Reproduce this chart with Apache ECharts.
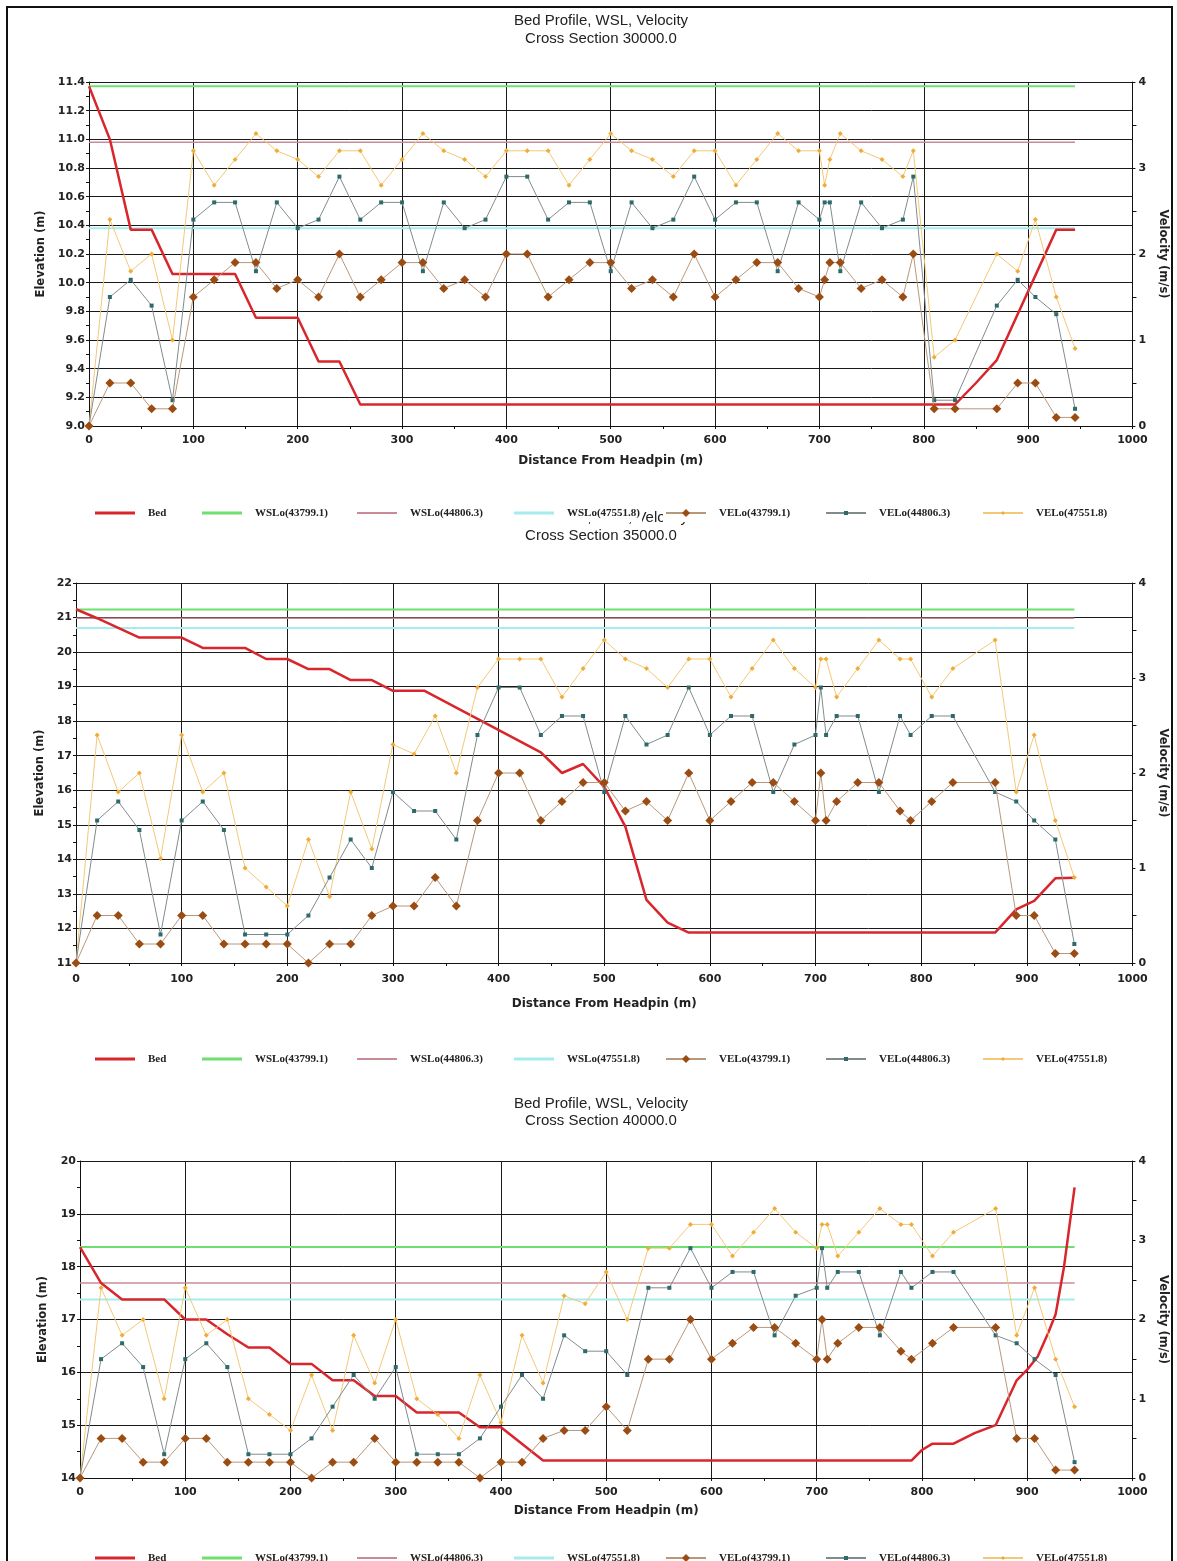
<!DOCTYPE html>
<html><head><meta charset="utf-8">
<script src="https://cdn.jsdelivr.net/npm/echarts@6/dist/echarts.min.js"></script>
<style>html,body{margin:0;padding:0;background:#fff;}#c{width:1177px;height:1561px;}</style>
</head><body><div id="c"></div>
<script>
// ---------- DATA ----------
const seriesNames = ['Bed','WSLo(43799.1)','WSLo(44806.3)','WSLo(47551.8)','VELo(43799.1)','VELo(44806.3)','VELo(47551.8)'];
const xTicks = [0,100,200,300,400,500,600,700,800,900,1000];
const velTicks = [0,1,2,3,4];
const titleLine1 = 'Bed Profile, WSL, Velocity';
const sectionTitles = ['Cross Section 30000.0','Cross Section 35000.0','Cross Section 40000.0'];

// stations where velocities are reported (m)
const dist = [0,20,40,60,80,100,120,140,160,180,200,220,240,260,280,300,320,340,360,380,400,420,440,460,480,500,520,540,560,580,600,620,640,660,680,700,705,710,720,740,760,780,790,810,830,870,890,907,927,945];
const wslDist = [0,945];

// ---- Cross Section 30000.0 ----
const bedDist1 = [0,20,40,60,80,140,160,200,220,240,260,830,850,870,927,945];
const bedElev1 = [11.37,11.0,10.37,10.37,10.06,10.06,9.755,9.755,9.45,9.45,9.15,9.15,9.3,9.46,10.37,10.37];
const wsl1 = [11.37,10.98,10.38];
const vel1a = [0,0.5,0.5,0.2,0.2,1.5,1.7,1.9,1.9,1.6,1.7,1.5,2.0,1.5,1.7,1.9,1.9,1.6,1.7,1.5,2.0,2.0,1.5,1.7,1.9,1.9,1.6,1.7,1.5,2.0,1.5,1.7,1.9,1.9,1.6,1.5,1.7,1.9,1.9,1.6,1.7,1.5,2.0,0.2,0.2,0.2,0.5,0.5,0.1,0.1];
const vel1b = [0,1.5,1.7,1.4,0.3,2.4,2.6,2.6,1.8,2.6,2.3,2.4,2.9,2.4,2.6,2.6,1.8,2.6,2.3,2.4,2.9,2.9,2.4,2.6,2.6,1.8,2.6,2.3,2.4,2.9,2.4,2.6,2.6,1.8,2.6,2.4,2.6,2.6,1.8,2.6,2.3,2.4,2.9,0.3,0.3,1.4,1.7,1.5,1.3,0.2];
const vel1c = [0,2.4,1.8,2.0,1.0,3.2,2.8,3.1,3.4,3.2,3.1,2.9,3.2,3.2,2.8,3.1,3.4,3.2,3.1,2.9,3.2,3.2,3.2,2.8,3.1,3.4,3.2,3.1,2.9,3.2,3.2,2.8,3.1,3.4,3.2,3.2,2.8,3.1,3.4,3.2,3.1,2.9,3.2,0.8,1.0,2.0,1.8,2.4,1.5,0.9];

// ---- Cross Section 35000.0 ----
const bedDist2 = [0,20,40,60,100,120,160,180,200,220,240,260,280,300,330,440,460,480,500,520,540,560,580,870,890,907,927,945];
const bedElev2 = [21.24,20.98,20.7,20.42,20.42,20.12,20.12,19.8,19.8,19.51,19.51,19.19,19.19,18.88,18.88,17.1,16.5,16.76,16.1,14.95,12.83,12.17,11.88,11.88,12.55,12.8,13.45,13.47];
const wsl2 = [21.23,20.98,20.7];
const vel2a = [0,0.5,0.5,0.2,0.2,0.5,0.5,0.2,0.2,0.2,0.2,0,0.2,0.2,0.5,0.6,0.6,0.9,0.6,1.5,2.0,2.0,1.5,1.7,1.9,1.9,1.6,1.7,1.5,2.0,1.5,1.7,1.9,1.9,1.7,1.5,2.0,1.5,1.7,1.9,1.9,1.6,1.5,1.7,1.9,1.9,0.5,0.5,0.1,0.1];
const vel2b = [0,1.5,1.7,1.4,0.3,1.5,1.7,1.4,0.3,0.3,0.3,0.5,0.9,1.3,1.0,1.8,1.6,1.6,1.3,2.4,2.9,2.9,2.4,2.6,2.6,1.8,2.6,2.3,2.4,2.9,2.4,2.6,2.6,1.8,2.3,2.4,2.9,2.4,2.6,2.6,1.8,2.6,2.4,2.6,2.6,1.8,1.7,1.5,1.3,0.2];
const vel2c = [0,2.4,1.8,2.0,1.1,2.4,1.8,2.0,1.0,0.8,0.6,1.3,0.7,1.8,1.2,2.3,2.2,2.6,2.0,2.9,3.2,3.2,3.2,2.8,3.1,3.4,3.2,3.1,2.9,3.2,3.2,2.8,3.1,3.4,3.1,2.9,3.2,3.2,2.8,3.1,3.4,3.2,3.2,2.8,3.1,3.4,1.8,2.4,1.5,0.9];

// ---- Cross Section 40000.0 ----
const bedDist3 = [0,20,40,80,100,120,140,160,180,200,220,240,260,280,300,320,360,380,400,440,790,800,810,830,850,870,890,900,910,920,927,935,945];
const bedElev3 = [18.37,17.69,17.38,17.38,17.0,17.0,16.72,16.47,16.47,16.16,16.16,15.85,15.85,15.55,15.55,15.24,15.24,14.96,14.96,14.33,14.33,14.53,14.65,14.65,14.85,15.0,15.85,16.05,16.3,16.75,17.1,18.0,19.5];
const wsl3 = [18.37,17.69,17.38];
const vel3a = [0,0.5,0.5,0.2,0.2,0.5,0.5,0.2,0.2,0.2,0.2,0,0.2,0.2,0.5,0.2,0.2,0.2,0.2,0,0.2,0.2,0.5,0.6,0.6,0.9,0.6,1.5,1.5,2.0,1.5,1.7,1.9,1.9,1.7,1.5,2.0,1.5,1.7,1.9,1.9,1.6,1.5,1.7,1.9,1.9,0.5,0.5,0.1,0.1];
const vel3b = [0,1.5,1.7,1.4,0.3,1.5,1.7,1.4,0.3,0.3,0.3,0.5,0.9,1.3,1.0,1.4,0.3,0.3,0.3,0.5,0.9,1.3,1.0,1.8,1.6,1.6,1.3,2.4,2.4,2.9,2.4,2.6,2.6,1.8,2.3,2.4,2.9,2.4,2.6,2.6,1.8,2.6,2.4,2.6,2.6,1.8,1.7,1.5,1.3,0.2];
const vel3c = [0,2.4,1.8,2.0,1.0,2.4,1.8,2.0,1.0,0.8,0.6,1.3,0.6,1.8,1.2,2.0,1.0,0.8,0.5,1.3,0.7,1.8,1.2,2.3,2.2,2.6,2.0,2.9,2.9,3.2,3.2,2.8,3.1,3.4,3.1,2.9,3.2,3.2,2.8,3.1,3.4,3.2,3.2,2.8,3.1,3.4,1.8,2.4,1.5,0.9];

// ---------- LAYOUT / STYLE ----------
const panelData = [
  {bedD: bedDist1, bedE: bedElev1, wsl: wsl1, vel: [vel1a, vel1b, vel1c], yMin: 9, yMax: 11.4, yInt: 0.2, dec: 1},
  {bedD: bedDist2, bedE: bedElev2, wsl: wsl2, vel: [vel2a, vel2b, vel2c], yMin: 11, yMax: 22, yInt: 1, dec: 0},
  {bedD: bedDist3, bedE: bedElev3, wsl: wsl3, vel: [vel3a, vel3b, vel3c], yMin: 14, yMax: 20, yInt: 1, dec: 0}
];
const layout = [
  {left: 89, right: 44, top: 82, height: 344, t1: 21, t2: 39, leg: 512, xLblMargin: 9, xNameGap: 29, yNameGap: 40, rNameGap: 22},
  {left: 76, right: 40, top: 583, height: 380, t1: 518, t2: 536, leg: 1058, xLblMargin: 11, xNameGap: 35, yNameGap: 27, rNameGap: 19},
  {left: 80, right: 36, top: 1161, height: 317, t1: 1104, t2: 1121, leg: 1557, xLblMargin: 9, xNameGap: 27, yNameGap: 31, rNameGap: 20}
];
const legendLeft = [93, 200, 355, 512, 663, 823, 980];
const legendIcon = ['rect', 'rect', 'rect', 'rect', null, null, null];
const legendIconH = [3, 3, 2, 3, 10, 5, 5];
const colors = {
  bed: '#d8262c', wsl: ['#6fe06f', '#c98b98', '#a6ecec'],
  velLine: ['#b9987a', '#808c8c', '#f3c878'],
  velMark: ['#9a4c12', '#2e6a6a', '#f1ac38']
};
const tickFont = {fontFamily: 'DejaVu Sans', fontWeight: 'bold', fontSize: 11, color: '#222'};
const nameFont = {fontFamily: 'DejaVu Sans', fontWeight: 'bold', fontSize: 11.5, color: '#222'};

const grid = [], xAxis = [], yAxis = [], series = [], legend = [], graphic = [];

graphic.push({type: 'rect', silent: true, z: -10, shape: {x: 7, y: 7, width: 1165, height: 1600}, style: {fill: 'none', stroke: '#111', lineWidth: 2}});

panelData.forEach((p, i) => {
  const L = layout[i];
  grid.push({left: L.left, right: L.right, top: L.top, height: L.height, containLabel: false});
  xAxis.push({
    type: 'value', gridIndex: i, min: xTicks[0], max: xTicks[xTicks.length - 1], interval: 100,
    name: 'Distance From Headpin (m)', nameLocation: 'middle', nameGap: L.xNameGap, nameTextStyle: Object.assign({}, nameFont, {fontSize: 12}),
    axisLine: {show: true, onZero: false, lineStyle: {color: '#111', width: 1}},
    axisTick: {show: true, length: 3, lineStyle: {color: '#111'}},
    minorTick: {show: true, splitNumber: 2, length: 3, lineStyle: {color: '#111'}},
    axisLabel: Object.assign({margin: L.xLblMargin, formatter: v => String(v)}, tickFont),
    splitLine: {show: true, lineStyle: {color: '#1a1a1a', width: 1}}
  });
  yAxis.push({
    type: 'value', gridIndex: i, min: p.yMin, max: p.yMax, interval: p.yInt, position: 'left',
    name: 'Elevation (m)', nameLocation: 'middle', nameGap: L.yNameGap, nameRotate: 90, nameTextStyle: nameFont,
    axisLine: {show: true, lineStyle: {color: '#111'}},
    axisTick: {show: true, length: 3, lineStyle: {color: '#111'}},
    minorTick: {show: true, splitNumber: 2, length: 3, lineStyle: {color: '#111'}},
    axisLabel: Object.assign({margin: 4, formatter: v => v.toFixed(p.dec)}, tickFont),
    splitLine: {show: true, lineStyle: {color: '#1a1a1a', width: 1}}
  });
  yAxis.push({
    type: 'value', gridIndex: i, min: velTicks[0], max: velTicks[velTicks.length - 1], interval: 1, position: 'right',
    name: 'Velocity (m/s)', nameLocation: 'middle', nameGap: L.rNameGap, nameRotate: -90, nameTextStyle: nameFont,
    axisLine: {show: true, lineStyle: {color: '#111'}},
    axisTick: {show: true, length: 3, lineStyle: {color: '#111'}},
    minorTick: {show: true, splitNumber: 2, length: 4, lineStyle: {color: '#111'}},
    axisLabel: Object.assign({margin: 6}, tickFont),
    splitLine: {show: false}
  });
  const yl = 2 * i, yr = 2 * i + 1;
  // WSL lines
  p.wsl.forEach((lvl, k) => {
    series.push({
      name: seriesNames[1 + k], type: 'line', xAxisIndex: i, yAxisIndex: yl,
      data: wslDist.map(d => [d, lvl]), symbol: 'none', silent: true, z: 2,
      lineStyle: {color: colors.wsl[k], width: k === 1 ? 1.5 : 2}, itemStyle: {color: colors.wsl[k]}
    });
  });
  // Bed
  series.push({
    name: seriesNames[0], type: 'line', xAxisIndex: i, yAxisIndex: yl,
    data: p.bedD.map((d, j) => [d, p.bedE[j]]), symbol: 'none', silent: true, z: 3,
    lineStyle: {color: colors.bed, width: 2.5}, itemStyle: {color: colors.bed}
  });
  // Velocities
  const syms = ['diamond', 'rect', 'diamond'];
  const sizes = [9, 4, 5];
  p.vel.forEach((v, k) => {
    series.push({
      name: seriesNames[4 + k], type: 'line', xAxisIndex: i, yAxisIndex: yr,
      data: dist.map((d, j) => [d, v[j]]), symbol: syms[k], symbolSize: sizes[k], showAllSymbol: true,
      silent: true, z: 4 + (2 - k),
      lineStyle: {color: colors.velLine[k], width: 1}, itemStyle: {color: colors.velMark[k]}
    });
  });
  // Legends (one per item)
  seriesNames.forEach((nm, k) => {
    const h = legendIconH[k];
    const item = legendIcon[k] ? {name: nm, icon: legendIcon[k]} : {name: nm};
    legend.push({
      data: [item], left: legendLeft[k], top: L.leg - 6, padding: [1, 2, 3, 2], itemWidth: 40, itemHeight: h, itemGap: 0,
      selectedMode: false, backgroundColor: '#fff', z: 8,
      textStyle: {fontFamily: 'Liberation Serif', fontWeight: 'bold', fontSize: 11, color: '#222', padding: [0, 0, 0, 8], lineHeight: 12}
    });
  });
  // Titles
  graphic.push({type: 'text', x: 601, y: L.t1, z: 1, style: {text: titleLine1, fill: '#222', font: '15px "Liberation Sans"', align: 'center', verticalAlign: 'middle'}});
  graphic.push({type: 'text', x: 601, y: L.t2, z: 1, style: {text: sectionTitles[i], fill: '#222', font: '15px "Liberation Sans"', align: 'center', verticalAlign: 'middle'}});
});

const chart = echarts.init(document.getElementById('c'), null, {renderer: 'canvas'});
chart.setOption({
  backgroundColor: '#fff', animation: false,
  grid, xAxis, yAxis, series, legend, graphic
});
</script></body></html>
